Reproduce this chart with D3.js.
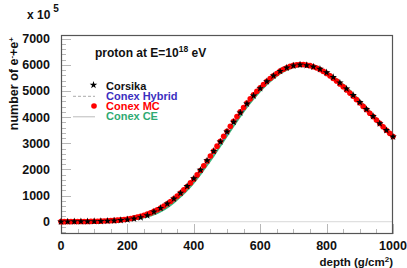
<!DOCTYPE html>
<html><head><meta charset="utf-8">
<script src="https://cdn.jsdelivr.net/npm/d3@7"></script>
<style>
html,body{margin:0;padding:0;background:#fff;}
svg text{font-family:"Liberation Sans",Arial,Helvetica,sans-serif;font-weight:bold;}
</style></head>
<body><svg id="c" width="407" height="268"></svg>
<script>
// ---- data (number of e-+e+, in units of 10^5) ----
const depthCorsika = [0,20,40,60,80,100,120,140,160,180,200,220,240,260,280,300,320,340,360,380,400,420,440,460,480,500,520,540,560,580,600,620,640,660,680,700,720,740,760,780,800,820,840,860,880,900,920,940,960,980,1000];
const corsika = [2,3,4,6,9,13,19,27,39,56,80,115,165,240,380,520,690,880,1100,1360,1650,1980,2340,2700,3060,3440,3810,4170,4510,4820,5100,5360,5580,5760,5890,5970,6000,5980,5930,5840,5710,5530,5320,5090,4840,4570,4300,4030,3760,3500,3250];
const depthMC = [0,10,20,30,40,50,60,70,80,90,100,110,120,130,140,150,160,170,180,190,200,210,220,230,240,250,260,270,280,290,300,310,320,330,340,350,360,370,380,390,400,410,420,430,440,450,460,470,480,490,500,510,520,530,540,550,560,570,580,590,600,610,620,630,640,650,660,670,680,690,700,710,720,730,740,750,760,770,780,790,800,810,820,830,840,850,860,870,880,890,900,910,920,930,940,950,960,970,980,990,1000];
const conexMC = [3,3,4,4,5,6,7,9,11,13,16,19,23,28,34,41,50,60,72,86,104,124,148,176,208,246,290,338,394,456,526,602,686,776,874,980,1094,1216,1346,1484,1630,1790,1960,2140,2320,2510,2700,2890,3080,3270,3460,3650,3840,4020,4200,4370,4540,4700,4850,4990,5120,5250,5370,5480,5580,5670,5760,5830,5890,5940,5980,6000,6010,6010,5990,5970,5930,5880,5820,5750,5670,5580,5480,5380,5270,5160,5040,4920,4800,4670,4540,4410,4280,4150,4020,3890,3760,3630,3500,3380,3260];
const depthCE = depthCorsika;
const conexCE = [1,2,3,5,7,10,15,22,32,46,66,95,136,195,280,400,550,740,960,1210,1500,1820,2170,2530,2910,3290,3670,4040,4390,4710,5000,5260,5480,5670,5810,5910,5960,5960,5920,5840,5720,5550,5350,5130,4890,4630,4360,4090,3820,3560,3300];
const conexHybrid = [2,3,4,6,8,12,17,25,36,52,75,108,155,225,330,460,620,810,1030,1290,1590,1910,2260,2620,2990,3360,3740,4100,4450,4760,5050,5310,5530,5720,5860,5950,5980,5970,5920,5830,5710,5540,5330,5100,4860,4600,4330,4060,3790,3530,3270];
const xTicks = [0,200,400,600,800,1000];
const yTicks = [0,1000,2000,3000,4000,5000,6000,7000];
const legendLabels = ["Corsika","Conex Hybrid","Conex MC","Conex CE"];

const svg = d3.select("#c");
const L=61,R=393,T=35,B=234;
const x = d3.scaleLinear().domain([0,1000]).range([L,R]);
const y = d3.scaleLinear().domain([-470,7142]).range([B,T]);

// zero line
svg.append("line").attr("x1",L).attr("x2",R).attr("y1",y(0)).attr("y2",y(0))
  .attr("stroke","#d8d8d8").attr("stroke-width",1);

// y ticks (inside)
const yMinor = d3.range(-400,7142,200);
svg.append("g").selectAll("line").data(yMinor).join("line")
  .attr("x1",L).attr("x2",d=>L+(d%1000===0?10:5))
  .attr("y1",d=>Math.round(y(d))+0.5).attr("y2",d=>Math.round(y(d))+0.5)
  .attr("stroke","#b8b8b8").attr("stroke-width",1);
svg.append("g").selectAll("text").data(yTicks).join("text")
  .attr("x",50).attr("y",d=>y(d)+4.5).attr("text-anchor","end")
  .attr("font-size",12.5).attr("fill","#111").text(d=>d);

// x ticks (inside, up from bottom)
const xMinor = d3.range(0,1001,50);
svg.append("g").selectAll("line").data(xMinor).join("line")
  .attr("x1",d=>Math.round(x(d))+0.5).attr("x2",d=>Math.round(x(d))+0.5)
  .attr("y1",B).attr("y2",d=>B-(d%200===0?10:5))
  .attr("stroke","#b8b8b8").attr("stroke-width",1);
svg.append("g").selectAll("text").data(xTicks).join("text")
  .attr("x",d=>x(d)).attr("y",249.5).attr("text-anchor","middle")
  .attr("font-size",12.5).attr("fill","#111").text(d=>d);

// frame
svg.append("rect").attr("x",L+0.5).attr("y",T+0.5).attr("width",R-L-1).attr("height",B-T-1)
  .attr("fill","none").attr("stroke","#555").attr("stroke-width",1.2);

// curves
const lineGen = (xs)=>d3.line().x((d,i)=>x(xs[i])).y(d=>y(d)).curve(d3.curveMonotoneX);
svg.append("path").datum(conexCE).attr("d",lineGen(depthCE))
  .attr("fill","none").attr("stroke","#3cb57e").attr("stroke-width",2);
svg.append("path").datum(conexHybrid).attr("d",lineGen(depthCorsika))
  .attr("fill","none").attr("stroke","#4a3cc8").attr("stroke-width",1).attr("stroke-dasharray","3,2");
svg.append("g").selectAll("circle").data(conexMC).join("circle")
  .attr("cx",(d,i)=>x(depthMC[i])).attr("cy",d=>y(d)).attr("r",2.8).attr("fill","#ff0000");
const star = d3.symbol().type(d3.symbolStar).size(18);
svg.append("g").selectAll("path").data(corsika).join("path")
  .attr("transform",(d,i)=>`translate(${x(depthCorsika[i])},${y(d)})`)
  .attr("d",star).attr("fill","#000");

// title & labels
const t1 = svg.append("text").attr("x",95).attr("y",57).attr("font-size",12).attr("fill","#111");
t1.append("tspan").text("proton at E=10");
t1.append("tspan").attr("dy",-5).attr("font-size",8.5).text("18");
t1.append("tspan").attr("dy",5).text(" eV");

const t2 = svg.append("text").attr("x",27).attr("y",19).attr("font-size",12).attr("fill","#111");
t2.append("tspan").text("x 10");
t2.append("tspan").attr("dx",3).attr("dy",-7).attr("font-size",10).text("5");

const yl = svg.append("text").attr("transform","translate(18,37) rotate(-90)")
  .attr("text-anchor","end").attr("font-size",12.5).attr("fill","#111");
yl.append("tspan").text("number of e");
yl.append("tspan").attr("dy",-4).attr("font-size",8).text("-");
yl.append("tspan").attr("dy",4).text("+e");
yl.append("tspan").attr("dy",-4).attr("font-size",8).text("+");

const xl = svg.append("text").attr("x",393).attr("y",266).attr("text-anchor","end")
  .attr("font-size",11.5).attr("fill","#111");
xl.append("tspan").text("depth (g/cm");
xl.append("tspan").attr("dy",-4).attr("font-size",8).text("2");
xl.append("tspan").attr("dy",4).text(")");

// legend
const legColors = ["#111","#3b2fc0","#ff0000","#2eaa72"];
const legY = [89.5,99.8,110,120.3];
svg.append("g").selectAll("text").data(legendLabels).join("text")
  .attr("x",106).attr("y",(d,i)=>legY[i]).attr("font-size",11)
  .attr("fill",(d,i)=>legColors[i]).text(d=>d);
svg.append("path").attr("transform",`translate(93.5,${legY[0]-4.5})`).attr("d",star).attr("fill","#000");
svg.append("line").attr("x1",73).attr("x2",95).attr("y1",legY[1]-3.5).attr("y2",legY[1]-3.5)
  .attr("stroke","#aaa").attr("stroke-dasharray","3,2");
svg.append("circle").attr("cx",94).attr("cy",legY[2]-4).attr("r",2.8).attr("fill","#ff0000");
svg.append("line").attr("x1",73).attr("x2",95).attr("y1",legY[3]-3.5).attr("y2",legY[3]-3.5)
  .attr("stroke","#bbb");
</script></body></html>
